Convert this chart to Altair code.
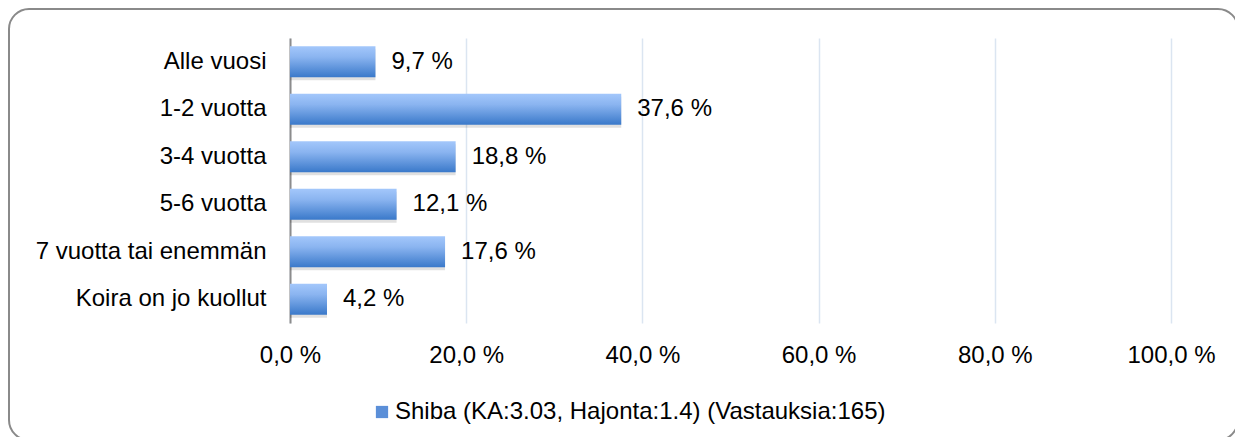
import altair as alt
import pandas as pd

categories = ["Alle vuosi", "1-2 vuotta", "3-4 vuotta", "5-6 vuotta", "7 vuotta tai enemmän", "Koira on jo kuollut"]
values = [9.7, 37.6, 18.8, 12.1, 17.6, 4.2]
series_name = "Shiba (KA:3.03, Hajonta:1.4) (Vastauksia:165)"
x_ticks = [0, 20, 40, 60, 80, 100]

df = pd.DataFrame({
    "cat": categories,
    "v": values,
    "label": [f"{v:.1f}".replace(".", ",") + " %" for v in values],
    "series": [series_name] * len(values),
})

FONT = "Liberation Sans"
FS = 24

y_enc = alt.Y("cat:N", sort=categories,
              scale=alt.Scale(paddingInner=0.35, paddingOuter=0.175),
              axis=alt.Axis(title=None, ticks=False, domain=True, domainColor="#8c8c8c",
                            domainWidth=2, labelPadding=24, labelFontSize=FS, labelFont=FONT,
                            labelColor="#000000", grid=False, labelLimit=0))
x_enc = alt.X("v:Q", scale=alt.Scale(domain=[0, 100], nice=False),
              axis=alt.Axis(title=None, values=x_ticks, domain=False, ticks=False,
                            grid=True, gridColor="#dbe5f1", gridWidth=1.5,
                            labelFontSize=FS, labelFont=FONT, labelColor="#000000",
                            labelPadding=20, labelFlush=False,
                            labelExpr="replace(format(datum.value, '.1f'), '.', ',') + ' %'"))

base = alt.Chart(df)

shadow = base.mark_bar(color="#000000", opacity=0.12, yOffset=3, y2Offset=3, x2Offset=3).encode(
    x=x_enc, y=y_enc)

grad = alt.LinearGradient(gradient="linear", x1=0, y1=0, x2=0, y2=1,
                          stops=[alt.GradientStop(color="#a3c7fb", offset=0),
                                 alt.GradientStop(color="#8ab4f0", offset=0.35),
                                 alt.GradientStop(color="#3a79ca", offset=1)])
bars = base.mark_bar(color=grad).encode(x="v:Q", y=alt.Y("cat:N", sort=categories))

texts = base.mark_text(align="left", baseline="middle", dx=16, fontSize=FS, font=FONT,
                       color="#000000").encode(x="v:Q", y=alt.Y("cat:N", sort=categories),
                                               text="label:N")

legend_layer = base.mark_square(opacity=0).encode(
    x="v:Q", y=alt.Y("cat:N", sort=categories),
    color=alt.Color("series:N", scale=alt.Scale(range=["#5b8fd8"]),
                    legend=alt.Legend(title=None, orient="none", legendX=80, legendY=362,
                                      symbolType="square", symbolSize=150, symbolOpacity=1,
                                      symbolStrokeWidth=0, labelFontSize=FS, labelFont=FONT,
                                      labelColor="#000000", labelOffset=1, labelLimit=0)))

border = alt.Chart(pd.DataFrame({"a": [0]})).mark_rect(
    fill=None, stroke="#8a8a8a", strokeWidth=2, cornerRadius=20
).encode(x=alt.value(-281), x2=alt.value(948), y=alt.value(-29), y2=alt.value(402))

chart = alt.layer(border, shadow, bars, texts, legend_layer).properties(
    width=881, height=285,
    autosize=alt.AutoSizeParams(type="none"),
    padding={"left": 282, "top": 30, "right": 64, "bottom": 114},
    background="#ffffff",
).configure_view(stroke=None)

chart.save("out.html", embed_options={"renderer": "svg", "actions": False})
